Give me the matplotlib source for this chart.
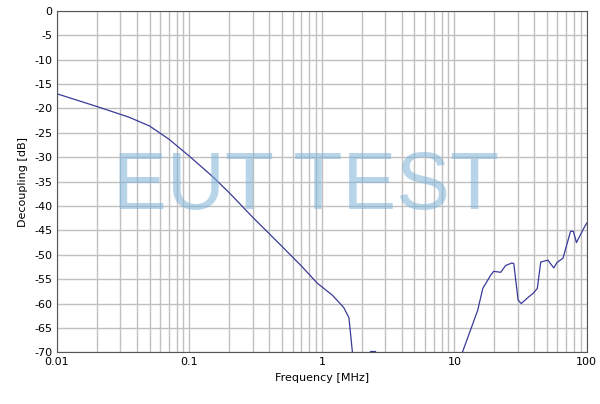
import matplotlib
matplotlib.use("Agg")
import matplotlib.pyplot as plt
from matplotlib.ticker import LogLocator, NullFormatter

f1 = [0.01, 0.02, 0.035, 0.05, 0.07, 0.1, 0.15, 0.2, 0.3, 0.5, 0.7, 0.92, 1.2, 1.46, 1.6, 1.70]
d1 = [-17, -19.6, -21.8, -23.6, -26.3, -29.8, -34, -37.3, -42.3, -48.3, -52.3, -55.8, -58.3, -60.8, -62.9, -70]
f2 = [11.5, 15, 16.4, 18.8, 19.8, 22.4, 24.4, 27.1, 28.1, 30.3, 32, 36.2, 39.4, 42.3,
      44.9, 50.8, 56.3, 59.5, 66.1, 75.4, 79.2, 83.5, 94.7, 100]
d2 = [-70, -61.4, -56.9, -54.2, -53.4, -53.6, -52.2, -51.7, -51.8, -59.3, -60, -58.7,
      -57.9, -56.9, -51.5, -51.1, -52.7, -51.6, -50.7, -45.2, -45.2, -47.5, -44.6, -43.5]
f3 = [2.3, 2.5]
d3 = [-69.8, -69.8]
xticks = [0.01, 0.1, 1, 10, 100]
xlabels = ["0.01", "0.1", "1", "10", "100"]
yticks = list(range(-70, 1, 5))

fig = plt.figure(figsize=(6, 4.04), dpi=100)
ax = fig.add_axes([0.095, 0.128, 0.883, 0.845])
ax.set_xscale("log")
ax.set_xlim(0.01, 100)
ax.set_ylim(-70, 0)
for f, d in ((f1, d1), (f2, d2), (f3, d3)):
    ax.plot(f, d, color="#3a3a9a", lw=0.9)
ax.set_xticks(xticks)
ax.set_xticklabels(xlabels)
ax.xaxis.set_minor_locator(LogLocator(base=10, subs=range(2, 10)))
ax.xaxis.set_minor_formatter(NullFormatter())
ax.set_yticks(yticks)
ax.set_yticklabels([str(v) for v in yticks])
ax.grid(True, which="both", color="#c0c0c0", lw=1.0)
ax.tick_params(labelsize=8, length=0)
ax.tick_params(which="minor", length=0)
ax.set_xlabel("Frequency [MHz]", fontsize=8)
ax.set_ylabel("Decoupling [dB]", fontsize=8)
for s in ax.spines.values():
    s.set_color("#555555")
ax.text(0.47, 0.48, "EUT TEST", transform=ax.transAxes, ha="center", va="center",
        fontsize=58, color="#7fb2d8", alpha=0.55, family="Liberation Sans")
fig.savefig("out.png", dpi=100)
